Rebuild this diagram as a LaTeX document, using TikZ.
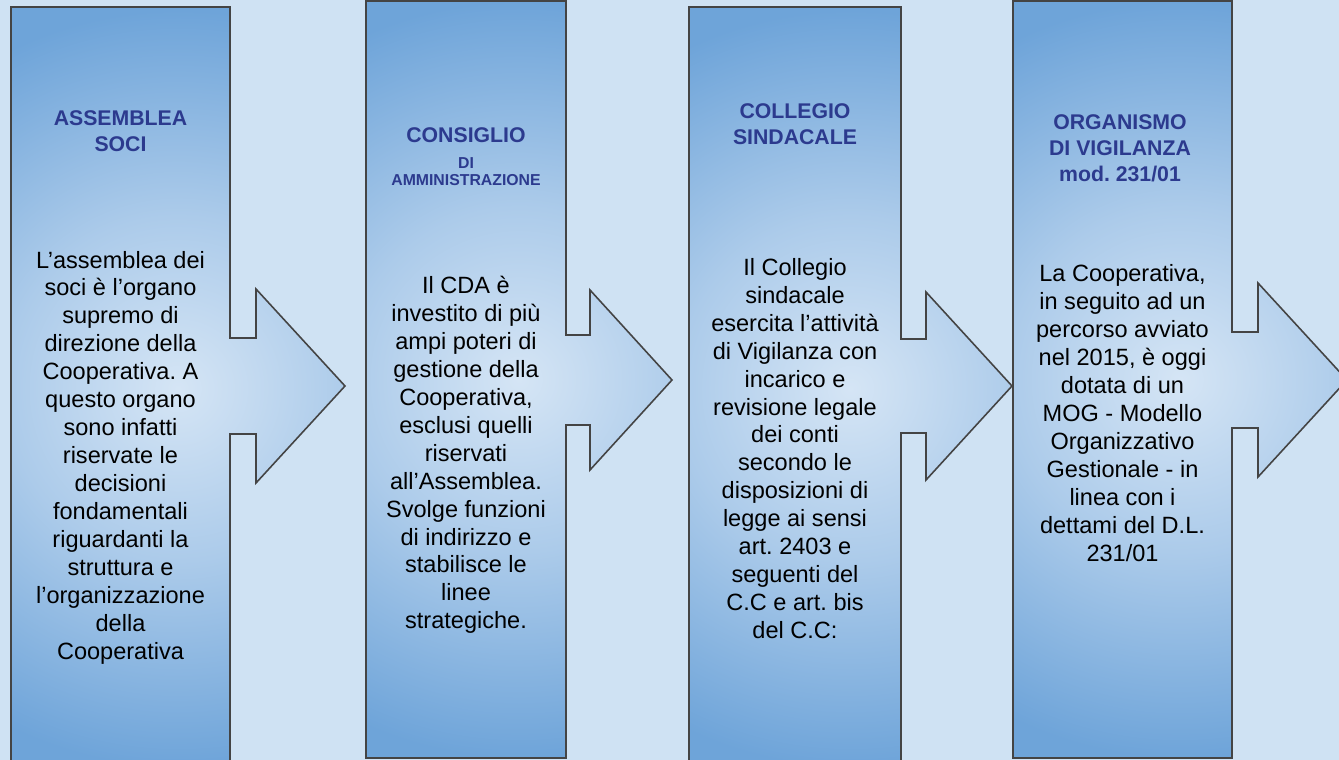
\documentclass[tikz,border=0pt]{standalone}
\usepackage{fontspec}
\setmainfont{Liberation Sans}
\usetikzlibrary{calc}
\frenchspacing

\definecolor{bgblue}{RGB}{207,226,243}
\definecolor{titleblue}{RGB}{44,58,142}
\definecolor{edgegray}{RGB}{68,68,68}
\definecolor{shadein}{RGB}{213,229,245}
\definecolor{shademid}{RGB}{172,203,234}
\definecolor{shadeout}{RGB}{110,164,217}
\pgfdeclareradialshading{boxshade}{\pgfpoint{0bp}{0bp}}{color(0bp)=(shadein); color(10bp)=(shademid); color(22bp)=(shadeout); color(50bp)=(shadeout)}

\begin{document}
\begin{tikzpicture}[x=0.02cm, y=-0.02cm,
    boxline/.style={draw=edgegray, line width=0.9pt, line join=miter},
    titletext/.style={font=\fontsize{12.1}{14.7}\selectfont\bfseries, text=titleblue, align=center, inner sep=0pt},
    smalltitle/.style={titletext, font=\fontsize{9}{9.8}\selectfont\bfseries},
    bodytext/.style={font=\fontsize{13.4}{15.9}\selectfont, align=center, inner sep=0pt}]
    \useasboundingbox (0,0) rectangle (1339,760);
    \clip (0,0) rectangle (1339,760);
    \fill[bgblue] (0,0) rectangle (1339,760);
    % box + arrow: left/right/top/bottom, head base, tip, mid y, head and stem half heights
    \foreach \l/\r/\t/\b/\hb/\tip/\cy/\hh/\sh in {11/230/7/770/256/345/386/97/48, 366/566/1/758/590/672/380/90/45,
        689/901/7/770/926/1012/386/94/47, 1013/1232/1/758/1258/1347/380/97/48}
        \draw[boxline, path picture={\shade[shading=boxshade] ({(\l+\tip)/2-430},{(\t+\b)/2-430}) rectangle ++(860,860);}]
            (\l,\t) -- (\r,\t) -- (\r,{\cy-\sh}) -- (\hb,{\cy-\sh}) -- (\hb,{\cy-\hh}) -- (\tip,\cy)
            -- (\hb,{\cy+\hh}) -- (\hb,{\cy+\sh}) -- (\r,{\cy+\sh}) -- (\r,\b) -- (\l,\b) -- cycle;
    % titles
    \node[titletext] (assemblea) at (120.5,131.5) {ASSEMBLEA\\SOCI};
    \node[titletext] (consiglio) at (466,135) {CONSIGLIO};
    \node[smalltitle] (consiglio-sub) at (466,171.5) {DI\\AMMINISTRAZIONE};
    \node[titletext] (collegio) at (795,124.5) {COLLEGIO\\SINDACALE};
    \node[titletext] (organismo) at (1120,148) {ORGANISMO\\DI VIGILANZA\\mod. 231/01};
    % texts
    \node[bodytext] (assemblea-text) at (120.5,457.5) {L’assemblea dei\\soci è l’organo\\supremo di\\direzione della\\Cooperativa. A\\questo organo\\sono infatti\\riservate le\\decisioni\\fondamentali\\riguardanti la\\struttura e\\l’organizzazione\\della\\Cooperativa};
    \node[bodytext] (consiglio-text) at (466,455) {Il CDA è\\investito di più\\ampi poteri di\\gestione della\\Cooperativa,\\esclusi quelli\\riservati\\all’Assemblea.\\Svolge funzioni\\di indirizzo e\\stabilisce le\\linee\\strategiche.};
    \node[bodytext] (collegio-text) at (795,448.5) {Il Collegio\\sindacale\\esercita l’attività\\di Vigilanza con\\incarico e\\revisione legale\\dei conti\\secondo le\\disposizioni di\\legge ai sensi\\art. 2403 e\\seguenti del\\C.C e art. bis\\del C.C:};
    \node[bodytext] (organismo-text) at (1122.5,413) {La Cooperativa,\\in seguito ad un\\percorso avviato\\nel 2015, è oggi\\dotata di un\\MOG - Modello\\Organizzativo\\Gestionale - in\\linea con i\\dettami del D.L.\\231/01};
\end{tikzpicture}
\end{document}
